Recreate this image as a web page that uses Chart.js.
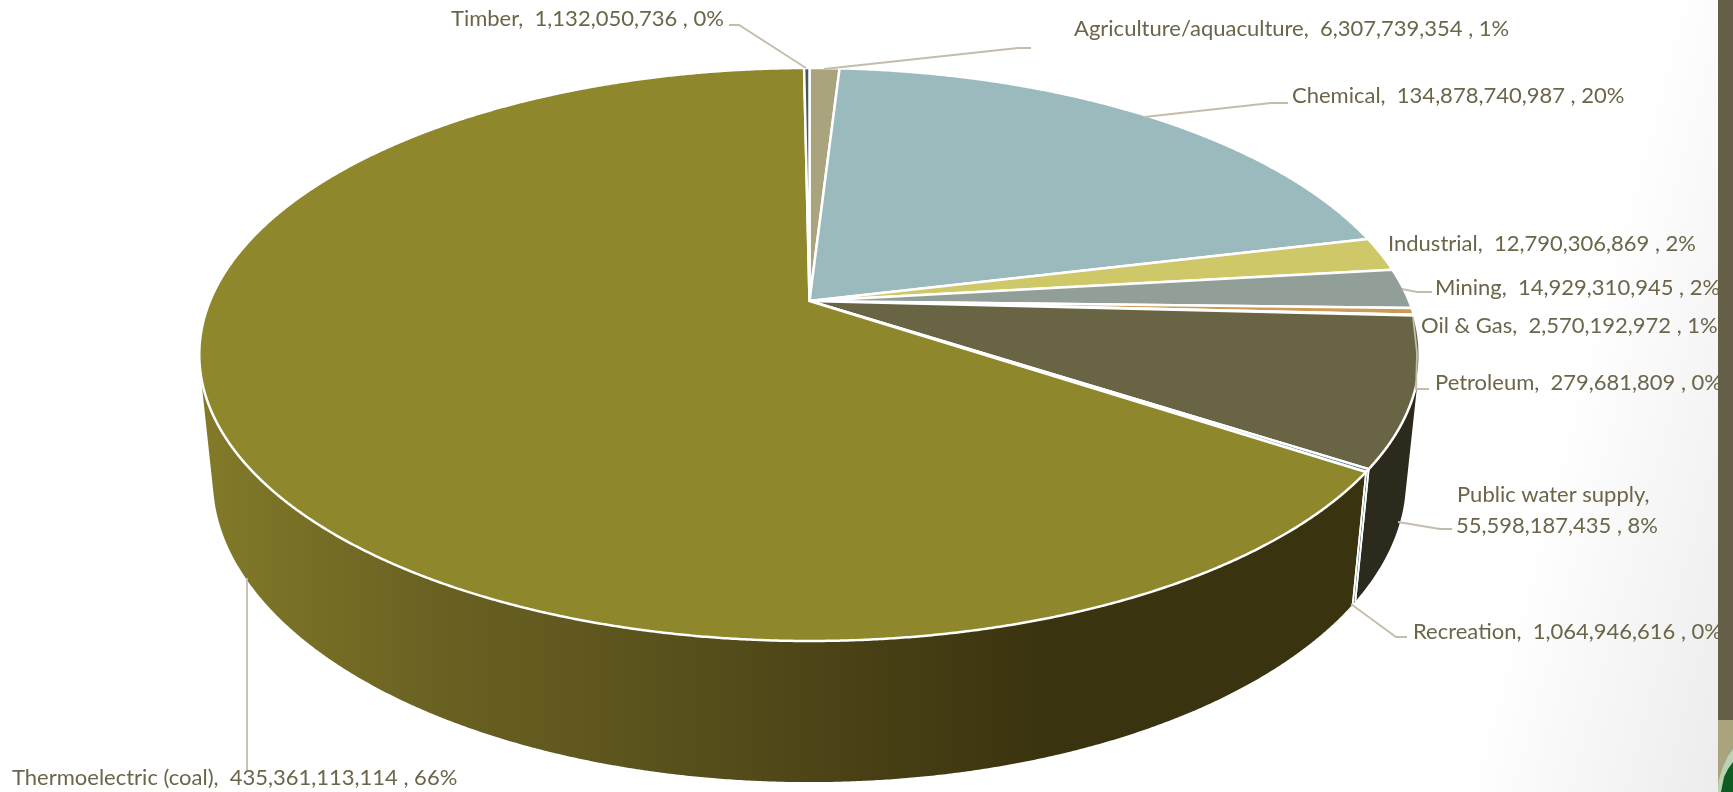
<!DOCTYPE html>
<html>
<head>
<meta charset="utf-8">
<style>
  html, body { margin: 0; padding: 0; width: 1733px; height: 792px; overflow: hidden; }
  body { background: linear-gradient(105deg, #ffffff 0%, #ffffff 86%, #ebebeb 100%); position: relative; }
  #chart { position: absolute; left: 0; top: 0; }
  #bar { position: absolute; left: 1718px; top: 0; width: 15px; height: 792px; overflow: hidden; background: #665f47; }
  #bar .lower { position: absolute; left: 0; top: 720px; width: 15px; height: 72px; background: #a9a47e; }
  #bar .halo { position: absolute; left: 0; top: 745px; width: 15px; height: 47px; background: #b9d3b4;
    clip-path: polygon(15px 4px, 10px 11px, 5px 22px, 1px 34px, 0 42px, 0 47px, 15px 47px); }
  #bar .leaf { position: absolute; left: 0; top: 745px; width: 15px; height: 47px; background: #0f5c22;
    clip-path: polygon(15px 17px, 10px 24px, 6px 32px, 3px 47px, 15px 47px); }
</style>
<script src="https://cdn.jsdelivr.net/npm/chart.js@4/dist/chart.umd.js"></script>
</head>
<body>
<canvas id="chart" width="1733" height="792"></canvas>
<div id="bar"><div class="lower"></div><div class="halo"></div><div class="leaf"></div></div>
<script>
// Water withdrawal by sector, clockwise from twelve o'clock.
const categories = ['Agriculture/aquaculture', 'Chemical', 'Industrial', 'Mining', 'Oil & Gas',
  'Petroleum', 'Public water supply', 'Recreation', 'Thermoelectric (coal)', 'Timber'];
const amounts = [6307739354, 134878740987, 12790306869, 14929310945, 2570192972,
  279681809, 55598187435, 1064946616, 435361113114, 1132050736];
const percentLabels = ['1%', '20%', '2%', '2%', '1%', '0%', '8%', '0%', '66%', '0%'];

const topColors = ['#a9a47e', '#9bbabd', '#cfc868', '#929f98', '#cc9c56',
  '#3f6d78', '#696444', '#4a7f8c', '#8f872b', '#4a5560'];
const wallColors = ['#5a5740', '#4f6365', '#6b6733', '#4a524e', '#6a5029',
  '#1f3a40', '#2b2a1c', '#3f6d78', null, '#2a3036'];

// Label anchors: [x, baseline y] of each text line.
const labelAnchors = [
  [[1074, 36]], [[1292, 103]], [[1388, 251]], [[1435, 295]], [[1421, 333]],
  [[1435, 390]], [[1457, 502], [1456, 533]], [[1413, 639]], [[12, 785]], [[451, 26]]
];
// Leader polylines from each slice out to its label.
const leaderPaths = [
  [[824, 69], [1018, 48], [1031, 48]],
  [[1144, 117], [1271, 103], [1288, 103]],
  [],
  [[1402, 289], [1417, 292], [1432, 292]],
  [],
  [[1413, 317], [1417, 353], [1416, 389], [1429, 389]],
  [[1398, 522], [1440, 529], [1452, 529]],
  [[1351, 604], [1396, 637], [1407, 637]],
  [[247, 578], [247, 770]],
  [[729, 25], [739, 25], [806, 68]]
];

// Perspective of the tilted disc: apex, half-width, top and bottom of the rim.
const APEX_X = 809.5, APEX_Y = 301, K = 0.1867, P = -220.3, Q = 599.5;
// Vanishing point of the vertical edges and the disc thickness factor.
const VP_X = 809, VP_Y = 6000, THICK = 0.022;

function project(angle, lower) {
  const u = Math.cos(angle), v = -Math.sin(angle);
  const w = 1 + K * v;
  const x = APEX_X + Q * u / w;
  const y = (APEX_Y + P * v) / w;
  if (!lower) return [x, y];
  return [(x * w + THICK * VP_X) / (w + THICK), (y * w + THICK * VP_Y) / (w + THICK)];
}

function arcPoints(a0, a1, lower) {
  const n = Math.max(2, Math.ceil(Math.abs(a1 - a0) / 0.004));
  const pts = [];
  for (let i = 0; i <= n; i++) pts.push(project(a0 + (a1 - a0) * i / n, lower));
  return pts;
}

// Pie slice drawn through the disc's perspective instead of as a circular sector.
class ProjectedArc extends Chart.ArcElement {
  draw(ctx) {
    const o = this.options;
    const pts = arcPoints(this.startAngle, this.endAngle, false);
    ctx.save();
    ctx.beginPath();
    ctx.moveTo(APEX_X, APEX_Y);
    pts.forEach(p => ctx.lineTo(p[0], p[1]));
    ctx.closePath();
    ctx.fillStyle = o.backgroundColor;
    ctx.fill();
    ctx.strokeStyle = o.borderColor;
    ctx.lineWidth = o.borderWidth;
    ctx.lineJoin = 'round';
    ctx.stroke();
    ctx.restore();
  }
}
ProjectedArc.id = 'projectedArc';
Chart.register(ProjectedArc);
Chart.defaults.datasets.pie.dataElementType = 'projectedArc';

function coalWallGradient(ctx) {
  const g = ctx.createLinearGradient(200, 0, 1046, 0);
  g.addColorStop(0, '#837b29');
  g.addColorStop(0.09, '#7a7226');
  g.addColorStop(0.27, '#6a6222');
  g.addColorStop(0.54, '#5a521c');
  g.addColorStop(0.81, '#473f14');
  g.addColorStop(1, '#3a3310');
  return g;
}

// Outer wall of the disc, built from the same slice angles as the top face.
const wallPlugin = {
  id: 'wall',
  beforeDatasetsDraw(chart) {
    const ctx = chart.ctx;
    const arcs = chart.getDatasetMeta(0).data;
    ctx.save();
    arcs.forEach((arc, i) => {
      const top = arcPoints(arc.startAngle, arc.endAngle, false);
      const low = arcPoints(arc.startAngle, arc.endAngle, true);
      ctx.beginPath();
      for (let k = 0; k < top.length - 1; k++) {
        const quad = [top[k], top[k + 1], low[k + 1], low[k]];
        let area = 0;
        quad.forEach((p, j) => { const q = quad[(j + 1) % 4]; area += p[0] * q[1] - q[0] * p[1]; });
        if (area < 0) quad.reverse();
        ctx.moveTo(quad[0][0], quad[0][1]);
        for (let j = 1; j < 4; j++) ctx.lineTo(quad[j][0], quad[j][1]);
        ctx.closePath();
      }
      ctx.fillStyle = wallColors[i] || coalWallGradient(ctx);
      ctx.fill('nonzero');
    });
    // White seams on the slice boundaries that face the viewer.
    ctx.strokeStyle = '#ffffff';
    ctx.lineWidth = 1.6;
    arcs.forEach(arc => {
      [arc.startAngle, arc.endAngle].forEach(a => {
        if (-Math.sin(a) < -K - 0.05) {
          const t = project(a, false), b = project(a, true);
          ctx.beginPath();
          ctx.moveTo(t[0], t[1]);
          ctx.lineTo(b[0], b[1]);
          ctx.stroke();
        }
      });
    });
    ctx.restore();
  }
};

function labelLines(i) {
  const amount = amounts[i].toLocaleString('en-US');
  if (labelAnchors[i].length === 2) {
    return [categories[i] + ',', amount + ' , ' + percentLabels[i]];
  }
  return [categories[i] + ',  ' + amount + ' , ' + percentLabels[i]];
}

// Leader lines and data labels on top of the disc.
const labelPlugin = {
  id: 'sliceLabels',
  afterDatasetsDraw(chart) {
    const ctx = chart.ctx;
    ctx.save();
    ctx.strokeStyle = '#c4bdab';
    ctx.lineWidth = 1.8;
    leaderPaths.forEach(path => {
      if (!path.length) return;
      ctx.beginPath();
      path.forEach((p, j) => (j ? ctx.lineTo(p[0], p[1]) : ctx.moveTo(p[0], p[1])));
      ctx.stroke();
    });
    ctx.fillStyle = '#6b6549';
    ctx.font = '22px Lato';
    ctx.textBaseline = 'alphabetic';
    categories.forEach((_, i) => {
      labelLines(i).forEach((line, j) => {
        ctx.fillText(line, labelAnchors[i][j][0], labelAnchors[i][j][1]);
      });
    });
    ctx.restore();
  }
};

new Chart(document.getElementById('chart'), {
  type: 'pie',
  data: {
    labels: categories,
    datasets: [{
      data: amounts,
      backgroundColor: topColors,
      borderColor: '#ffffff',
      borderWidth: 2.5
    }]
  },
  options: {
    responsive: false,
    animation: false,
    events: [],
    plugins: { legend: { display: false }, tooltip: { enabled: false } }
  },
  plugins: [wallPlugin, labelPlugin]
});
</script>
</body>
</html>
